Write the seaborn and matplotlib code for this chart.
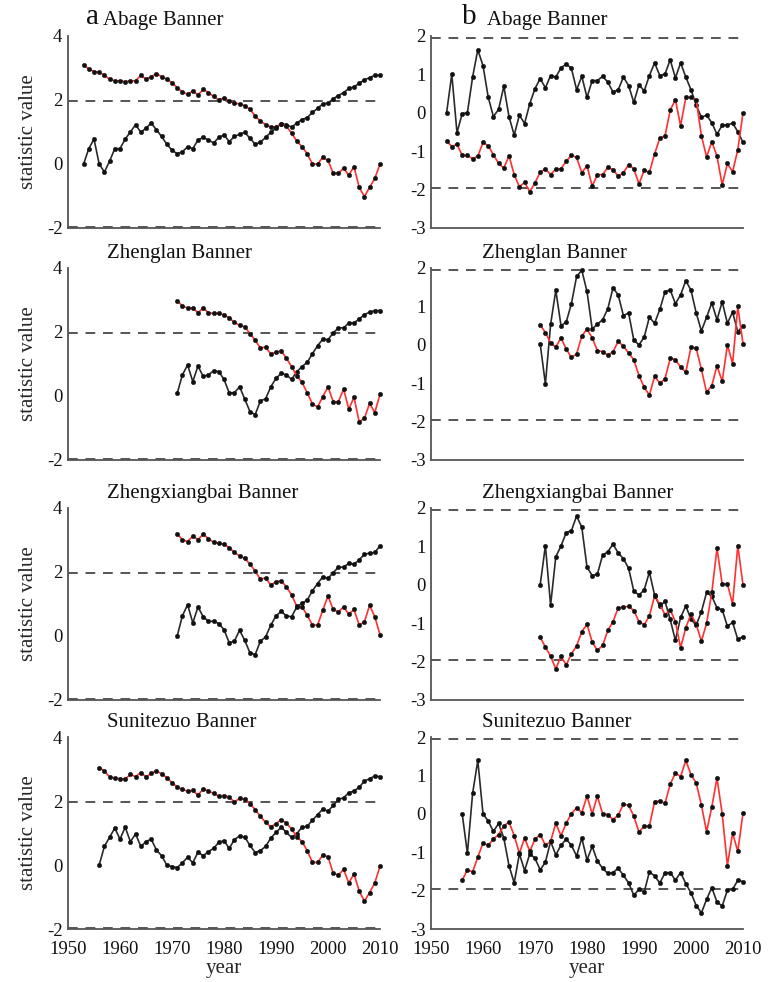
import numpy as np
import pandas as pd
import matplotlib
matplotlib.use("Agg")
import matplotlib.pyplot as plt
import seaborn as sns

# ---------------- data ----------------
stations = ["Abage Banner", "Zhenglan Banner", "Zhengxiangbai Banner", "Sunitezuo Banner"]
start_years = [1953, 1971, 1971, 1956]
end_year = 2010

# column a : UF (black) and UB (red)
abage_a_uf = [0, 0.48, 0.78, 0, -0.25, 0.09, 0.48, 0.48, 0.78, 1.0,
              1.23, 0.99, 1.12, 1.28, 1.07, 0.86, 0.62, 0.43, 0.32, 0.38,
              0.54, 0.48, 0.75, 0.83, 0.75, 0.66, 0.83, 0.91, 0.70, 0.86,
              0.93, 0.99, 0.80, 0.62, 0.68, 0.83, 0.99, 1.12, 1.26, 1.23,
              1.15, 1.28, 1.39, 1.45, 1.61, 1.74, 1.88, 1.90, 2.04, 2.14,
              2.23, 2.36, 2.41, 2.52, 2.63, 2.70, 2.77, 2.77]
abage_a_ub = [3.09, 2.97, 2.89, 2.87, 2.77, 2.65, 2.60, 2.60, 2.57, 2.60,
              2.60, 2.77, 2.65, 2.73, 2.82, 2.73, 2.65, 2.54, 2.39, 2.25,
              2.18, 2.28, 2.16, 2.33, 2.23, 2.11, 2.00, 2.07, 1.98, 1.90,
              1.88, 1.82, 1.71, 1.50, 1.34, 1.23, 1.15, 1.16, 1.26, 1.18,
              0.96, 0.72, 0.54, 0.32, 0.0, 0.0, 0.21, 0.11, -0.29, -0.29,
              -0.13, -0.35, -0.08, -0.73, -1.02, -0.73, -0.45, 0.0]
zhenglan_a_uf = [0.08, 0.66, 0.97, 0.45, 0.94, 0.61, 0.66, 0.79, 0.76, 0.52,
                 0.10, 0.10, 0.29, -0.10, -0.49, -0.58, -0.15, -0.09, 0.29, 0.55,
                 0.71, 0.66, 0.52, 0.76, 0.92, 1.05, 1.32, 1.57, 1.78, 1.76,
                 1.97, 2.13, 2.13, 2.28, 2.28, 2.41, 2.54, 2.62, 2.67, 2.67]
zhenglan_a_ub = [2.98, 2.81, 2.75, 2.75, 2.60, 2.75, 2.60, 2.58, 2.58, 2.54,
                 2.44, 2.30, 2.21, 2.16, 1.95, 1.74, 1.50, 1.53, 1.31, 1.37,
                 1.41, 1.18, 0.92, 0.63, 0.43, 0.10, -0.25, -0.34, -0.02, 0.29,
                 -0.18, -0.18, 0.22, -0.41, -0.04, -0.81, -0.70, -0.23, -0.52, 0.06]
zxb_a_uf = [0, 0.63, 0.98, 0.41, 0.91, 0.60, 0.46, 0.46, 0.39, 0.20,
            -0.21, -0.16, 0.18, -0.14, -0.53, -0.58, -0.16, -0.03, 0.34, 0.63,
            0.77, 0.63, 0.60, 0.91, 1.02, 1.12, 1.41, 1.64, 1.85, 1.80,
            1.98, 2.15, 2.15, 2.27, 2.24, 2.38, 2.55, 2.59, 2.61, 2.82]
zxb_a_ub = [3.19, 3.01, 2.95, 3.13, 3.01, 3.18, 3.04, 2.93, 2.90, 2.87,
            2.76, 2.61, 2.50, 2.43, 2.24, 2.03, 1.77, 1.82, 1.59, 1.70,
            1.72, 1.54, 1.28, 0.93, 0.91, 0.65, 0.34, 0.34, 0.81, 1.25,
            0.83, 0.75, 0.91, 0.68, 0.83, 0.34, 0.44, 0.96, 0.60, 0.04]
sunite_a_uf = [0, 0.58, 0.87, 1.15, 0.81, 1.18, 0.73, 0.97, 0.58, 0.73,
               0.81, 0.47, 0.29, 0, -0.05, -0.08, 0.07, 0.24, 0.07, 0.40,
               0.29, 0.42, 0.52, 0.71, 0.76, 0.52, 0.79, 0.91, 0.87, 0.61,
               0.39, 0.45, 0.58, 0.84, 1.02, 1.18, 1.02, 0.86, 0.98, 1.18,
               1.21, 1.40, 1.57, 1.75, 1.68, 1.86, 2.05, 2.10, 2.26, 2.31,
               2.43, 2.62, 2.70, 2.78, 2.76]
sunite_a_ub = [3.04, 2.94, 2.75, 2.71, 2.70, 2.68, 2.83, 2.76, 2.89, 2.75,
               2.86, 2.94, 2.85, 2.73, 2.57, 2.44, 2.36, 2.31, 2.33, 2.18,
               2.38, 2.31, 2.24, 2.15, 2.17, 2.12, 1.97, 2.08, 2.05, 1.92,
               1.73, 1.52, 1.33, 1.19, 1.29, 1.42, 1.31, 1.12, 0.89, 0.73,
               0.45, 0.08, 0.08, 0.31, 0.26, -0.26, -0.31, -0.14, -0.56, -0.28,
               -0.81, -1.13, -0.86, -0.56, -0.03]

# column b : UF (black) and UB (red)
abage_b_uf = [0, 1.0, -0.52, -0.02, 0, 0.93, 1.64, 1.23, 0.41, -0.1,
              0.09, 0.69, -0.1, -0.58, -0.06, -0.28, 0.24, 0.63, 0.89, 0.65,
              0.97, 0.93, 1.17, 1.27, 1.16, 0.6, 0.95, 0.40, 0.84, 0.84,
              0.95, 0.80, 0.54, 0.6, 0.93, 0.71, 0.27, 0.73, 0.57, 0.97,
              1.30, 0.97, 1.01, 1.38, 0.91, 1.30, 0.93, 0.6, 0.2, -0.12,
              -0.06, -0.26, -0.56, -0.32, -0.32, -0.27, -0.49, -0.77]
abage_b_ub = [-0.73, -0.88, -0.82, -1.11, -1.11, -1.2, -1.13, -0.77, -0.86, -1.09,
              -1.32, -1.44, -1.12, -1.61, -1.93, -1.81, -2.06, -1.82, -1.55, -1.46,
              -1.61, -1.46, -1.46, -1.26, -1.11, -1.16, -1.56, -1.38, -1.91, -1.61,
              -1.61, -1.42, -1.48, -1.65, -1.56, -1.35, -1.46, -1.85, -1.50, -1.55,
              -1.07, -0.66, -0.6, 0.07, 0.34, -0.34, 0.4, 0.4, 0.34, -0.6,
              -1.15, -0.75, -1.13, -1.88, -1.32, -1.54, -0.96, 0.0]
zhenglan_b_uf = [0.02, -1.02, 0.53, 1.42, 0.50, 0.59, 1.07, 1.78, 1.94, 1.39,
                 0.41, 0.54, 0.65, 0.94, 1.48, 1.30, 0.76, 0.83, 0.12, 0.0,
                 0.20, 0.72, 0.56, 0.92, 1.38, 1.43, 1.07, 1.30, 1.67, 1.42,
                 0.83, 0.36, 0.72, 1.09, 0.65, 1.12, 0.56, 0.85, 0.34, 0.50]
zhenglan_b_ub = [0.52, 0.32, 0.05, -0.06, 0.18, -0.11, -0.33, -0.24, 0.23, 0.41,
                 0.18, -0.15, -0.18, -0.27, -0.18, 0.09, -0.04, -0.21, -0.39, -0.80,
                 -1.11, -1.31, -0.82, -1.0, -0.89, -0.35, -0.39, -0.58, -0.71, -0.06,
                 -0.09, -0.64, -1.24, -1.06, -0.55, -0.95, 0.0, -0.49, 1.0, 0.03]
zxb_b_uf = [0, 1.02, -0.53, 0.73, 1.01, 1.36, 1.41, 1.79, 1.50, 0.46,
            0.24, 0.28, 0.77, 0.86, 1.06, 0.83, 0.68, 0.43, -0.16, -0.27,
            -0.13, 0.33, -0.27, -0.56, -0.43, -0.9, -1.45, -0.85, -0.55, -0.9,
            -1.05, -0.7, -0.2, -0.3, -0.6, -0.65, -1.08, -0.98, -1.42, -1.35]
zxb_b_ub = [-1.37, -1.62, -1.86, -2.19, -1.86, -2.09, -1.80, -1.59, -1.22, -1.03,
            -1.49, -1.71, -1.58, -1.19, -0.96, -0.60, -0.58, -0.56, -0.67, -0.96,
            -1.04, -0.81, -0.29, -0.51, -0.78, -0.65, -0.96, -1.64, -1.12, -0.76,
            -1.03, -1.47, -1.0, -0.2, 0.95, 0.02, 0.02, -0.50, 1.02, 0.0]
sunite_b_uf = [0, -1.03, 0.53, 1.39, 0.0, -0.19, -0.46, -0.25, -0.63, -1.35,
               -1.80, -1.04, -1.48, -1.04, -1.16, -1.46, -1.26, -0.72, -1.07, -0.82,
               -0.66, -0.82, -1.10, -0.63, -1.20, -0.85, -1.23, -1.42, -1.55, -1.53,
               -1.42, -1.60, -1.80, -2.12, -1.97, -2.04, -1.51, -1.62, -1.80, -1.54,
               -1.53, -1.73, -1.53, -1.82, -2.06, -2.39, -2.58, -2.23, -1.92, -2.30,
               -2.40, -1.99, -1.97, -1.73, -1.77]
sunite_b_ub = [-1.73, -1.46, -1.51, -1.13, -0.76, -0.82, -0.66, -0.54, -0.32, -0.21,
               -0.57, -1.03, -0.63, -0.98, -0.66, -0.54, -0.82, -0.72, -0.25, -0.57,
               -0.24, 0.0, 0.16, 0.03, 0.46, 0.0, 0.46, 0.0, -0.02, -0.15,
               -0.04, 0.25, 0.22, -0.06, -0.48, -0.32, -0.32, 0.32, 0.33, 0.27,
               0.77, 1.06, 0.97, 1.39, 1.02, 0.80, 0.23, -0.47, 0.18, 0.93,
               0.0, -1.35, -0.50, -0.98, 0.02]

col_a = [(abage_a_uf, abage_a_ub), (zhenglan_a_uf, zhenglan_a_ub),
         (zxb_a_uf, zxb_a_ub), (sunite_a_uf, sunite_a_ub)]
col_b = [(abage_b_uf, abage_b_ub), (zhenglan_b_uf, zhenglan_b_ub),
         (zxb_b_uf, zxb_b_ub), (sunite_b_uf, sunite_b_ub)]

crit = 1.96
a_yticks = [4, 2, 0, -2]
b_yticks = [2, 1, 0, -1, -2, -3]
x_ticks = [1950, 1960, 1970, 1980, 1990, 2000, 2010]

# ---------------- style ----------------
sns.set_theme(style="white")
plt.rcParams['font.family'] = ['Liberation Serif', 'DejaVu Serif']
plt.rcParams['axes.unicode_minus'] = False

BLACK = '#2a2a2a'
RED = '#ff3030'
DASH = '#555555'
SPINE = '#555555'

W, H = 775, 982
fig = plt.figure(figsize=(W / 100, H / 100), dpi=100)

left_x = [68 / W, 431 / W]
ax_w = 312 / W
ax_h = 192 / H
bottoms = [(H - 228) / H, (H - 460) / H, (H - 700) / H, (H - 929) / H]


def draw(ax, uf, ub, start, ylim, yticks, show_x):
    years = list(range(start, end_year + 1))
    df = pd.DataFrame({'year': years, 'UF': uf, 'UB': ub})
    for val in (crit, -crit):
        ax.axhline(val, color=DASH, lw=1.4, ls=(0, (5, 4)), zorder=1)
    common = dict(marker='o', markersize=3.2, markerfacecolor='#111111',
                  markeredgecolor='#111111', markeredgewidth=0.3, lw=1.2,
                  clip_on=False, zorder=3)
    sns.lineplot(data=df, x='year', y='UF', ax=ax, color=BLACK, **common)
    sns.lineplot(data=df, x='year', y='UB', ax=ax, color=RED, **common)
    ax.set_xlim(1950, 2010)
    ax.set_ylim(*ylim)
    ax.set_yticks(yticks)
    ax.set_yticklabels([str(t) for t in yticks])
    ax.set_xticks(x_ticks)
    if show_x:
        ax.set_xticklabels([str(t) for t in x_ticks])
        ax.set_xlabel('year', fontsize=15, labelpad=0)
    else:
        ax.set_xticklabels([])
        ax.set_xlabel('')
    ax.set_ylabel('')
    for s in ('top', 'right'):
        ax.spines[s].set_visible(False)
    for s in ('left', 'bottom'):
        ax.spines[s].set_color(SPINE)
        ax.spines[s].set_linewidth(1.3)
    ax.tick_params(axis='both', which='major', direction='out', length=3,
                   width=1.0, color=SPINE, labelsize=13.5, pad=1,
                   labelcolor='#111111')
    ax.tick_params(axis='x', pad=6)


TITLE_Y = 1.025
TOP_Y = 1.03
for r in range(4):
    # column a
    ax = fig.add_axes([left_x[0], bottoms[r], ax_w, ax_h])
    uf, ub = col_a[r]
    draw(ax, uf, ub, start_years[r], (-2, 4), a_yticks, r == 3)
    ax.set_ylabel('statistic value', fontsize=15, labelpad=6)
    if r == 0:
        ax.text(0.058, TOP_Y, 'a', transform=ax.transAxes, fontsize=21,
                va='bottom', ha='left', color='#111111')
        ax.text(0.112, TOP_Y, stations[r], transform=ax.transAxes, fontsize=15,
                va='bottom', ha='left', color='#111111')
    else:
        ax.text(0.125, TITLE_Y, stations[r], transform=ax.transAxes, fontsize=15,
                va='bottom', ha='left', color='#111111')

    # column b
    ax = fig.add_axes([left_x[1], bottoms[r], ax_w, ax_h])
    uf, ub = col_b[r]
    draw(ax, uf, ub, start_years[r], (-3, 2), b_yticks, r == 3)
    if r == 0:
        ax.text(0.1, TOP_Y, 'b', transform=ax.transAxes, fontsize=21,
                va='bottom', ha='left', color='#111111')
        ax.text(0.18, TOP_Y, stations[r], transform=ax.transAxes, fontsize=15,
                va='bottom', ha='left', color='#111111')
    else:
        ax.text(0.165, TITLE_Y, stations[r], transform=ax.transAxes, fontsize=15,
                va='bottom', ha='left', color='#111111')

fig.savefig('out.png', dpi=100, facecolor='white')
